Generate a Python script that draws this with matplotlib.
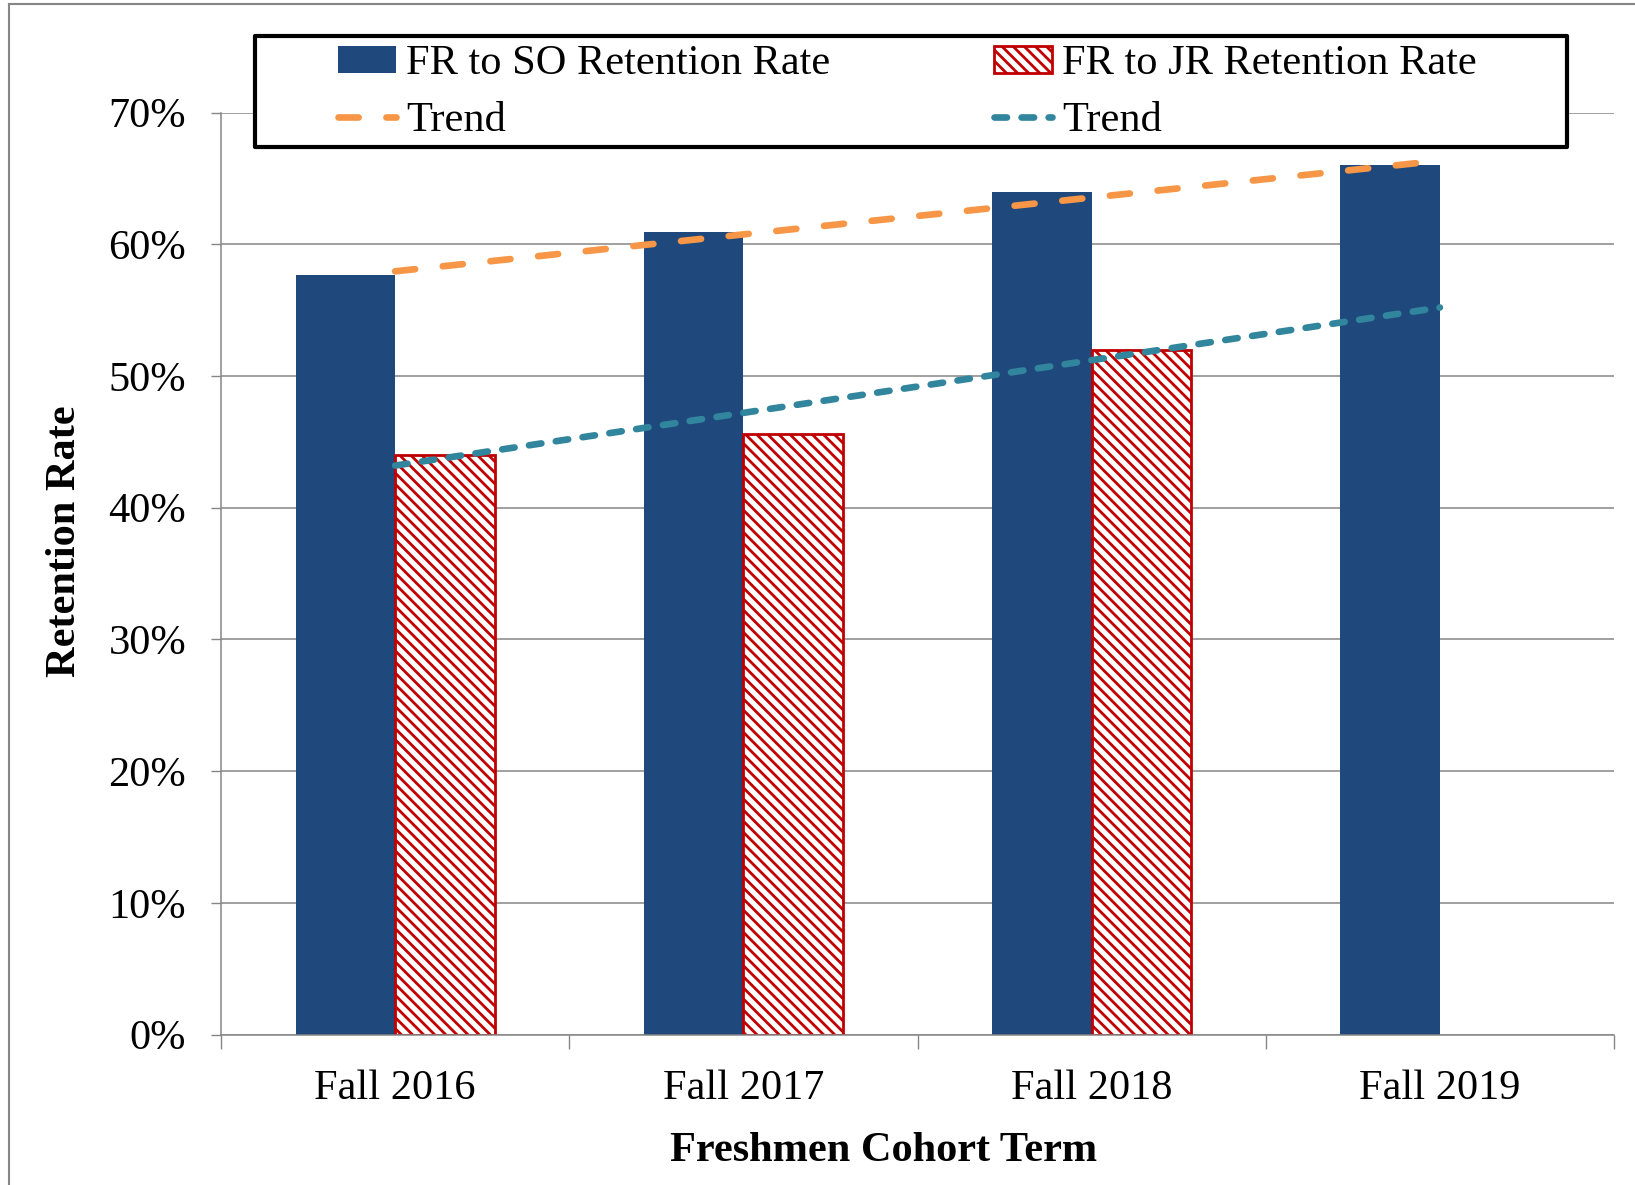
import numpy as np
import matplotlib
matplotlib.use("Agg")
import matplotlib.pyplot as plt
from matplotlib.patches import Rectangle
from matplotlib.lines import Line2D

# Datos
terms = ["Fall 2016", "Fall 2017", "Fall 2018", "Fall 2019"]
so_rate = [57.7, 60.9, 64.0, 66.0]   # FR to SO
jr_rate = [44.0, 45.6, 52.0]         # FR to JR (sin Fall 2019)
y_ticks = [0, 10, 20, 30, 40, 50, 60, 70]

BLUE = "#1F497D"
RED = "#C00000"
ORANGE = "#F79646"
TEAL = "#31859C"
GRAY = "#868686"

plt.rcParams["font.family"] = ["Liberation Serif", "DejaVu Serif"]
plt.rcParams["hatch.linewidth"] = 2.0
plt.rcParams["lines.scale_dashes"] = False
FS = 30.5

W, H = 1635, 1185
fig = plt.figure(figsize=(W / 100, H / 100), dpi=100)
ax = fig.add_axes([221 / W, 1 - 1034.5 / H, (1614 - 221) / W, (1034.5 - 112.6) / H])

x = np.arange(len(terms))
w = 1 / 3.5
so_bars = ax.bar(x - w / 2, so_rate, w, color=BLUE, linewidth=0, zorder=2)
jr_bars = ax.bar(x[:len(jr_rate)] + w / 2, jr_rate, w, color="white",
                 edgecolor=RED, hatch="\\\\\\", linewidth=2, zorder=2)

# Líneas de tendencia (ajuste lineal, como en Excel)
p_so = np.polyfit(x, so_rate, 1)
p_jr = np.polyfit(x[:len(jr_rate)], jr_rate, 1)
tr_so, = ax.plot(x, np.polyval(p_so, x), color=ORANGE, lw=4.8,
                 linestyle=(0, (14.5, 20)), dash_capstyle="round", zorder=3)
tr_jr, = ax.plot(x, np.polyval(p_jr, x), color=TEAL, lw=4.8,
                 linestyle=(0, (9, 10.5)), dash_capstyle="round", zorder=3)

ax.set_xlim(-0.5, len(terms) - 0.5)
ax.set_ylim(0, 70)
ax.set_yticks(y_ticks)
ax.set_yticklabels([f"{v}%" for v in y_ticks], fontsize=FS)
ax.set_xticks(x)
ax.set_xticklabels(terms, fontsize=FS)
ax.set_xticks(np.arange(-0.5, len(terms)), minor=True)
ax.tick_params(axis="x", which="major", length=0, pad=25)
ax.tick_params(axis="x", which="minor", length=10, width=1, color=GRAY)
ax.tick_params(axis="y", length=7, width=1, color=GRAY, pad=18)

ax.grid(axis="y", color=GRAY, linewidth=1.1)
ax.set_axisbelow(True)
for s in ["top", "right"]:
    ax.spines[s].set_visible(False)
for s in ["left", "bottom"]:
    ax.spines[s].set_color(GRAY)
    ax.spines[s].set_linewidth(1.1)

ax.set_xlabel("Freshmen Cohort Term", fontsize=FS, fontweight="bold")
ax.set_ylabel("Retention Rate", fontsize=FS, fontweight="bold")
ax.xaxis.set_label_coords(0.4757, -0.1058)
ax.yaxis.set_label_coords(-0.098, 0.535)

# Marco de la leyenda
fig.add_artist(Rectangle((255 / W, 1 - 147 / H), 1312 / W, 111 / H,
                         transform=fig.transFigure, facecolor="white",
                         edgecolor="black", linewidth=3, joinstyle="round", zorder=1))
fig.legend([so_bars, tr_so, jr_bars, tr_jr],
           ["FR to SO Retention Rate", "Trend", "FR to JR Retention Rate", "Trend"],
           ncol=2, loc="center", bbox_to_anchor=(0.5549, 0.9219), frameon=False,
           fontsize=FS, handlelength=1.37, handleheight=0.57, handletextpad=0.236,
           columnspacing=3.87, labelspacing=0.43, borderpad=0)

# Borde exterior gris
fig.add_artist(Line2D([9 / W, 9 / W], [0, 1 - 4 / H], transform=fig.transFigure,
                      color=GRAY, lw=1.5))
fig.add_artist(Line2D([9 / W, 1], [1 - 4 / H, 1 - 4 / H], transform=fig.transFigure,
                      color=GRAY, lw=1.5))

fig.savefig("out.png", dpi=100)
